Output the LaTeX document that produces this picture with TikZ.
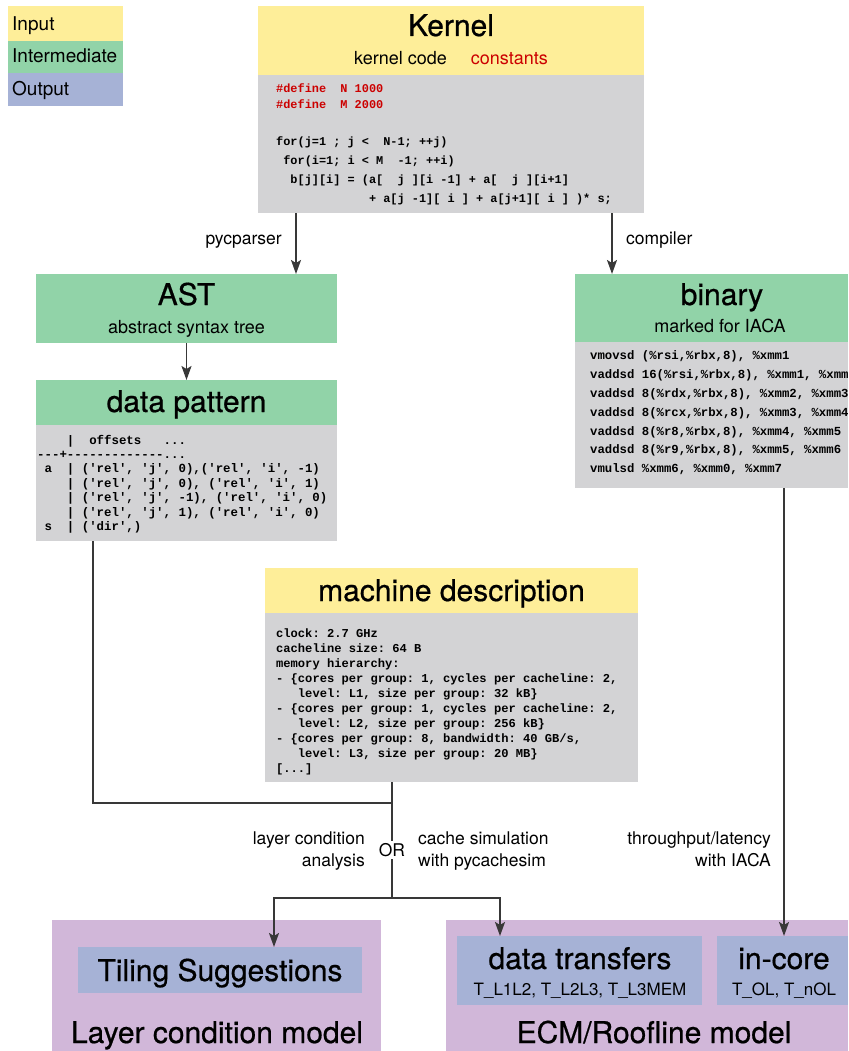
\documentclass[tikz,border=0pt]{standalone}
\usepackage{fontspec}
\setmainfont{TeX Gyre Heros}
\setmonofont{Liberation Mono}
\newfontfamily\titlefont{TeX Gyre Heros}[FakeBold=0.6]
\usetikzlibrary{arrows.meta}
\definecolor{cyellow}{HTML}{FEEE99}
\definecolor{cgreen}{HTML}{91D3A8}
\definecolor{cgray}{HTML}{D3D3D5}
\definecolor{cblue}{HTML}{A6B2D6}
\definecolor{cpurple}{HTML}{D1B7D9}
\definecolor{cred}{HTML}{CC0000}
\definecolor{cline}{HTML}{383838}
\newcommand\mybox[6]{\node[box,fill=#2,minimum width={(#5-#3)*1pt},minimum height={(#6-#4)*1pt}] (#1) at (#3,#4) {};}
\newcommand\cfont[1]{\fontsize{#1}{#1}\selectfont\ttfamily\bfseries}
\tikzset{
  box/.style={inner sep=0pt, outer sep=0pt, draw=none, anchor=north west},
  title/.style={font=\titlefont\fontsize{30}{36}\selectfont, inner sep=0pt, anchor=base},
  sub/.style={font=\fontsize{18}{22}\selectfont, inner sep=0pt, anchor=base},
  lab/.style={font=\fontsize{17.5}{21}\selectfont, inner sep=0pt},
  legtext/.style={font=\fontsize{19}{22}\selectfont, inner sep=0pt, anchor=base west},
  kcode/.style={font=\cfont{11.9}, inner sep=0pt, anchor=base west},
  dcode/.style={font=\cfont{12.4}, inner sep=0pt, anchor=base west},
  bcode/.style={font=\cfont{12.3}, inner sep=0pt, anchor=base west},
  mcode/.style={font=\cfont{12.1}, inner sep=0pt, anchor=base west},
  conn/.style={draw=cline, line width=1.8pt},
  arr/.style={conn, -{Stealth[length=14pt,width=10pt,inset=3pt]}},
}
\begin{document}
\begin{tikzpicture}[x=1pt,y=-1pt]
\useasboundingbox (0,0) rectangle (848,1051);

% legend
\mybox{legin}{cyellow}{8}{6}{123}{41}
\mybox{legmid}{cgreen}{8}{41}{123}{73}
\mybox{legout}{cblue}{8}{73}{123}{106}
\node[legtext] (tin) at (12,31) {Input};
\node[legtext] (tmid) at (12,63) {Intermediate};
\node[legtext] (tout) at (12,96) {Output};

% kernel
\mybox{khead}{cyellow}{258}{6}{644}{75}
\mybox{kcode}{cgray}{258}{75}{644}{213}
\node[title] (ktitle) at (451,36) {Kernel};
\node[sub] (ksub) at (451,65) {kernel code\hspace{24pt}\textcolor{cred}{constants}};
\node[kcode,text=cred] (k1) at (276,93) {\#define~~N~1000};
\node[kcode,text=cred] (k2) at (276,109) {\#define~~M~2000};
\node[kcode] (k3) at (276,146) {for(j=1~;~j~<~~N-1;~++j)};
\node[kcode] (k4) at (276,165) {~for(i=1;~i~<~M~~-1;~++i)};
\node[kcode] (k5) at (276,183) {~~b[j][i]~=~(a[~~j~][i~-1]~+~a[~~j~][i+1]};
\node[kcode] (k6) at (276,202) {~~~~~~~~~~~~~+~a[j~-1][~i~]~+~a[j+1][~i~]~)*~s;};

% AST
\mybox{ast}{cgreen}{36}{274}{337}{343}
\node[title] (asttitle) at (186.5,305) {AST};
\node[sub] (astsub) at (186.5,333) {abstract syntax tree};

% data pattern
\mybox{dphead}{cgreen}{36}{380}{337}{425}
\mybox{dpcode}{cgray}{36}{425}{337}{541}
\node[title] (dptitle) at (186.5,412) {data pattern};
\node[dcode] (d1) at (37,444) {~~~~|~~offsets~~~...};
\node[dcode] (d2) at (37,458) {---+-------------...};
\node[dcode] (d3) at (37,472) {~a~~|~('rel',~'j',~0),('rel',~'i',~-1)};
\node[dcode] (d4) at (37,487) {~~~~|~('rel',~'j',~0),~('rel',~'i',~1)};
\node[dcode] (d5) at (37,501) {~~~~|~('rel',~'j',~-1),~('rel',~'i',~0)};
\node[dcode] (d6) at (37,516) {~~~~|~('rel',~'j',~1),~('rel',~'i',~0)};
\node[dcode] (d7) at (37,530) {~s~~|~('dir',)};

% binary
\mybox{binhead}{cgreen}{575}{274}{848}{342}
\mybox{bincode}{cgray}{575}{342}{848}{488}
\node[title] (bintitle) at (722,305) {binary};
\node[sub] (binsub) at (720,332) {marked for IACA};
\begin{scope}
\clip (575,342) rectangle (848,488);
\node[bcode] (b1) at (590,359) {vmovsd~(\%rsi,\%rbx,8),~\%xmm1};
\node[bcode] (b2) at (590,378) {vaddsd~16(\%rsi,\%rbx,8),~\%xmm1,~\%xmm2};
\node[bcode] (b3) at (590,397) {vaddsd~8(\%rdx,\%rbx,8),~\%xmm2,~\%xmm3};
\node[bcode] (b4) at (590,416) {vaddsd~8(\%rcx,\%rbx,8),~\%xmm3,~\%xmm4};
\node[bcode] (b5) at (590,435) {vaddsd~8(\%r8,\%rbx,8),~\%xmm4,~\%xmm5};
\node[bcode] (b6) at (590,453) {vaddsd~8(\%r9,\%rbx,8),~\%xmm5,~\%xmm6};
\node[bcode] (b7) at (590,472) {vmulsd~\%xmm6,~\%xmm0,~\%xmm7};
\end{scope}

% machine description
\mybox{mdhead}{cyellow}{265}{568}{638}{613}
\mybox{mdcode}{cgray}{265}{613}{638}{782}
\node[title] (mdtitle) at (451.5,601) {machine description};
\node[mcode] (m1) at (276,637) {clock:~2.7~GHz};
\node[mcode] (m2) at (276,652) {cacheline~size:~64~B};
\node[mcode] (m3) at (276,667) {memory~hierarchy:};
\node[mcode] (m4) at (276,682) {-~\{cores~per~group:~1,~cycles~per~cacheline:~2,};
\node[mcode] (m5) at (276,697) {~~~level:~L1,~size~per~group:~32~kB\}};
\node[mcode] (m6) at (276,712) {-~\{cores~per~group:~1,~cycles~per~cacheline:~2,};
\node[mcode] (m7) at (276,727) {~~~level:~L2,~size~per~group:~256~kB\}};
\node[mcode] (m8) at (276,742) {-~\{cores~per~group:~8,~bandwidth:~40~GB/s,};
\node[mcode] (m9) at (276,757) {~~~level:~L3,~size~per~group:~20~MB\}};
\node[mcode] (m10) at (276,772) {[...]};

% output models
\mybox{lcm}{cpurple}{52}{920}{381}{1051}
\mybox{tiling}{cblue}{78}{947}{362}{993}
\node[title] (tilingt) at (220,981) {Tiling Suggestions};
\node[title] (lcmt) at (217,1043) {Layer condition model};
\mybox{ecm}{cpurple}{446}{920}{848}{1051}
\mybox{dt}{cblue}{457}{936}{702}{1005}
\mybox{incore}{cblue}{717}{936}{848}{1005}
\node[title] (dtt) at (580,969) {data transfers};
\node[sub,font=\fontsize{17}{20}\selectfont] (dts) at (580,995) {T\_L1L2, T\_L2L3, T\_L3MEM};
\node[title] (ict) at (784,969) {in-core};
\node[sub,font=\fontsize{17}{20}\selectfont] (ics) at (784,995) {T\_OL, T\_nOL};
\node[title] (ecmt) at (654,1043) {ECM/Roofline model};

% connectors
\coordinate (xk) at (296,0);
\coordinate (xc) at (612,0);
\coordinate (xd) at (93,0);
\coordinate (jn) at (392,803);
\coordinate (split) at (392,898);
\coordinate (bl) at (274,898);
\coordinate (br) at (500,898);
\coordinate (xi) at (784,0);
\draw[arr] (kcode.south -| xk) -- (ast.north -| xk);
\draw[arr] (kcode.south -| xc) -- (binhead.north -| xc);
\draw[arr] (ast.south) -- (dphead.north);
\draw[conn] (dpcode.south -| xd) |- (jn);
\draw[conn] (mdcode.south -| jn) -- (split);
\draw[arr] (split) -| (tiling.north -| bl);
\draw[arr] (split) -| (dt.north -| br);
\draw[arr] (bincode.south -| xi) -- (incore.north -| xi);

% labels
\node[lab,anchor=base east] (lpyc) at (282,244) {pycparser};
\node[lab,anchor=base west] (lcomp) at (626,244) {compiler};
\node[lab,anchor=base east] (llc1) at (365,844) {layer condition};
\node[lab,anchor=base east] (llc2) at (365,866) {analysis};
\node[lab,anchor=base west] (lcs1) at (418,844) {cache simulation};
\node[lab,anchor=base west] (lcs2) at (418,866) {with pycachesim};
\node[lab,anchor=base east] (ltp1) at (771,844) {throughput/latency};
\node[lab,anchor=base east] (ltp2) at (771,866) {with IACA};
\node[lab,fill=white,inner sep=2pt] (lor) at (392,850) {OR};
\end{tikzpicture}
\end{document}
